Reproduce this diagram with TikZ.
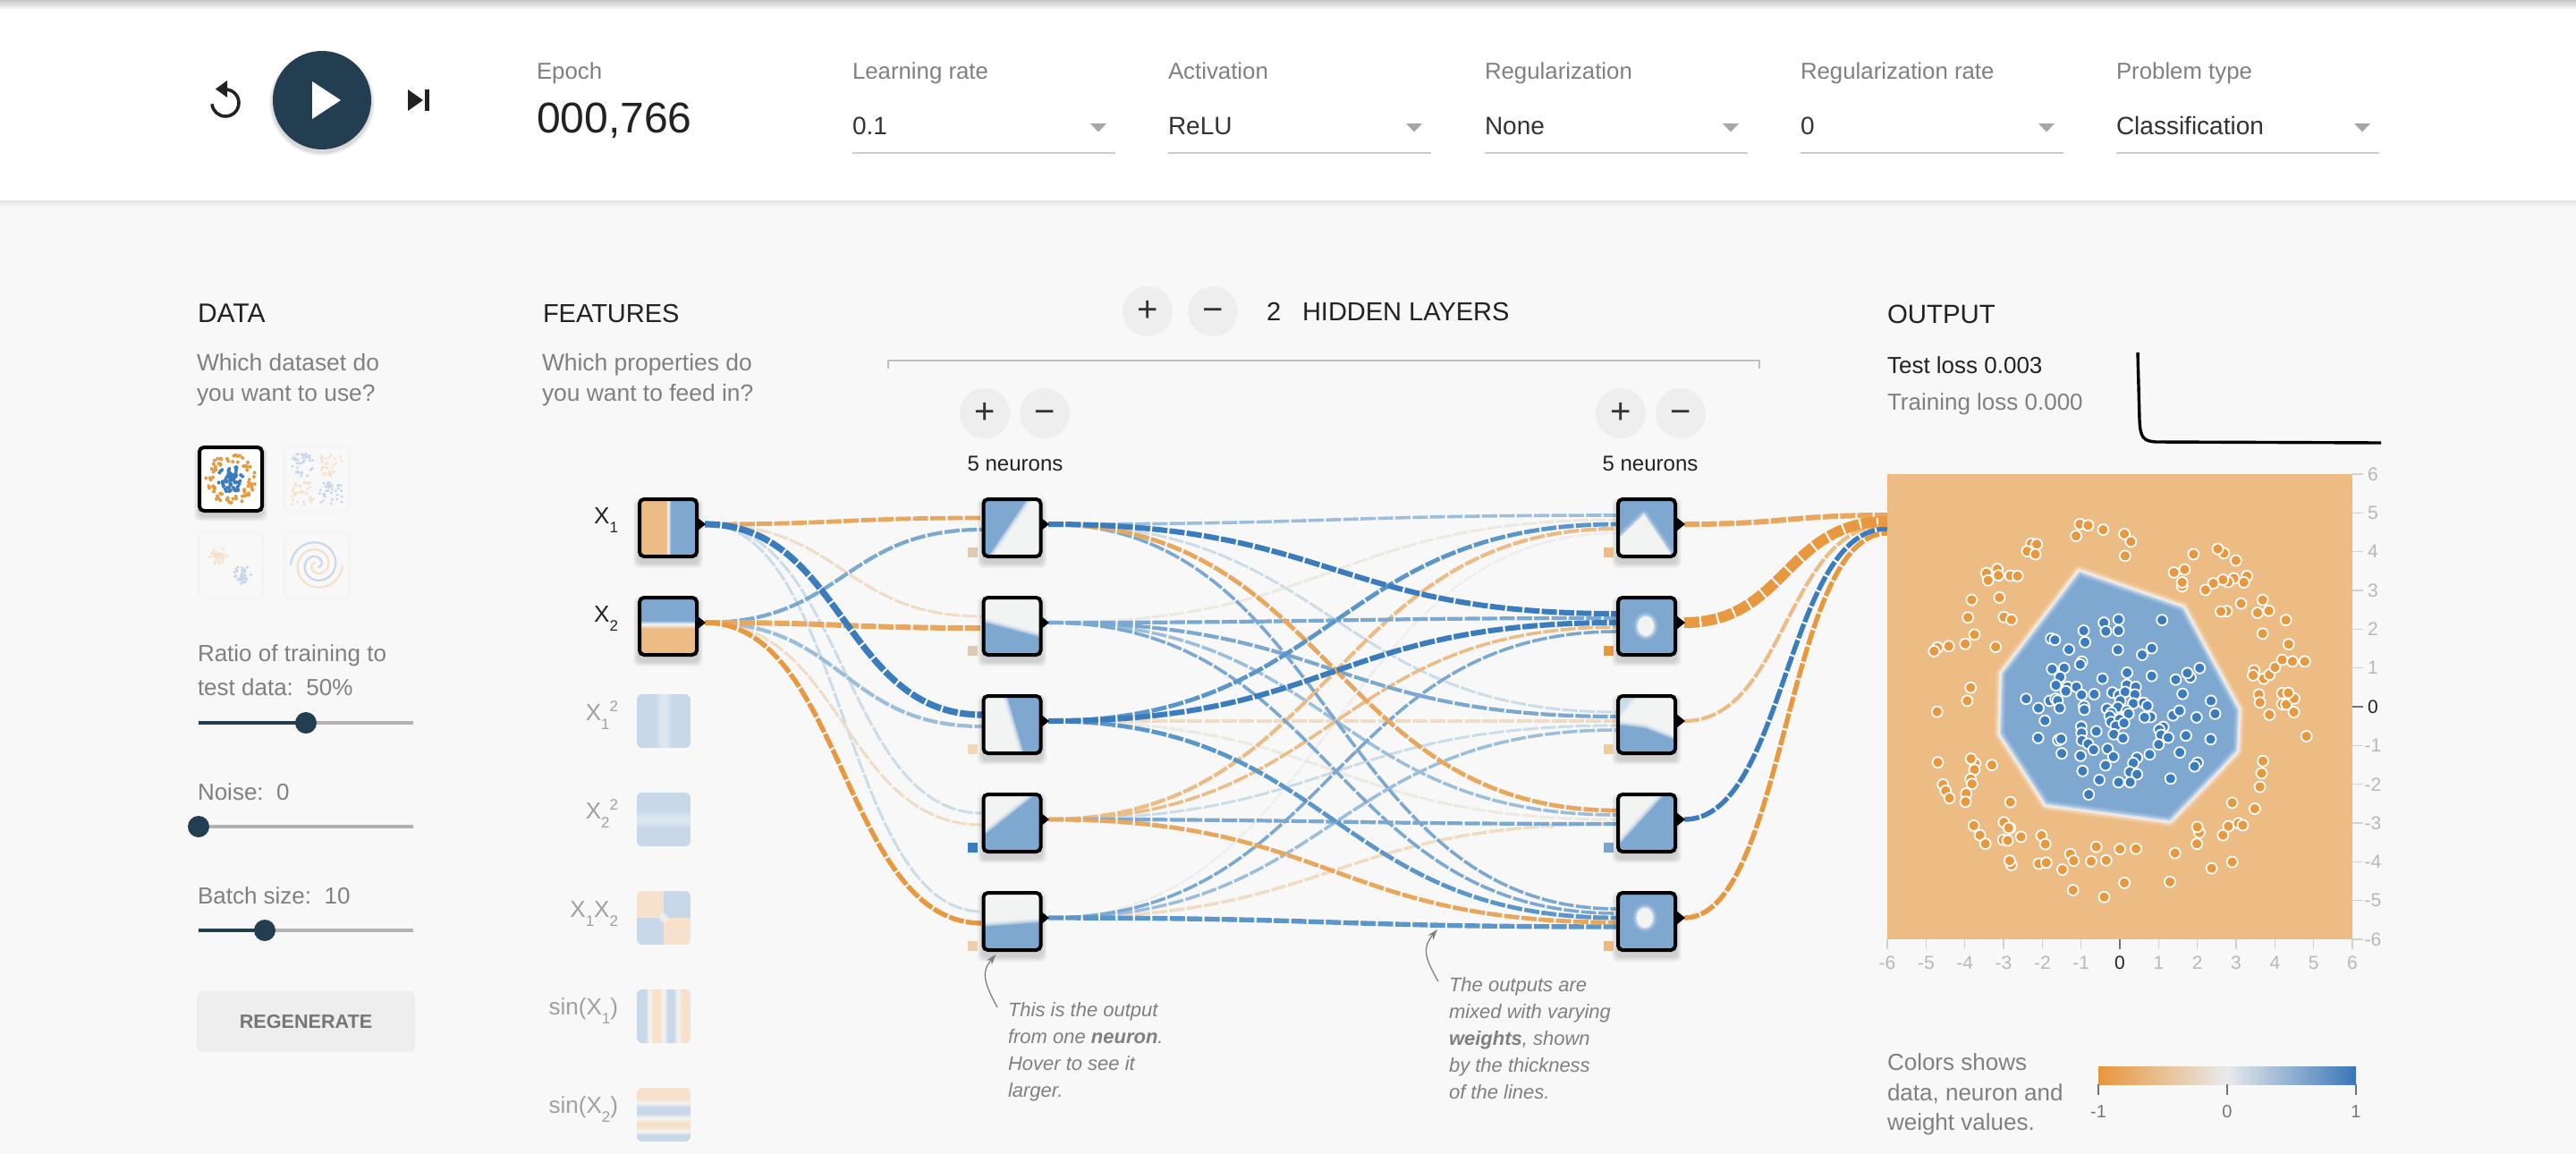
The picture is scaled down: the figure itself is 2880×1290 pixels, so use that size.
\documentclass[tikz,border=0pt]{standalone}
\usepackage{fontspec}
\setmainfont{Liberation Sans}
\usetikzlibrary{calc,arrows.meta}
\definecolor{pagebg}{HTML}{F8F8F8}
\definecolor{dark}{HTML}{233E50}
\definecolor{ink}{HTML}{222222}
\definecolor{val}{HTML}{333333}
\definecolor{lab}{HTML}{808080}
\definecolor{lab2}{HTML}{767676}
\definecolor{faintlab}{HTML}{A0A0A0}
\definecolor{track}{HTML}{B2B2B2}
\definecolor{btn}{HTML}{EEEEEE}
\definecolor{nblue}{HTML}{7FA8D1}
\definecolor{nwhite}{HTML}{F2F4F4}
\definecolor{nor}{HTML}{EDBB84}
\definecolor{ptO}{HTML}{E8983F}
\definecolor{ptB}{HTML}{3A7CBD}
\definecolor{orS}{HTML}{E8983F}
\definecolor{orM}{HTML}{E9A75E}
\definecolor{orL}{HTML}{EBBC85}
\definecolor{orP}{HTML}{F0DCC4}
\definecolor{grP}{HTML}{ECE9E0}
\definecolor{grQ}{HTML}{EDEDED}
\definecolor{blS}{HTML}{3A7CBD}
\definecolor{blM}{HTML}{5A96C9}
\definecolor{blN}{HTML}{7BA8D1}
\definecolor{blL}{HTML}{9DBEDB}
\definecolor{blP}{HTML}{CBDCE9}
\definecolor{pB}{HTML}{C8D8E9}
\definecolor{pB2}{HTML}{DDE7F0}
\definecolor{pO}{HTML}{F6E2CC}
\definecolor{pW}{HTML}{F4F4F2}
\definecolor{legO}{HTML}{E8963C}
\definecolor{legW}{HTML}{E8EAEB}
\definecolor{legB}{HTML}{3A75B8}
\pgfdeclarehorizontalshading{shXa}{100bp}{color(0bp)=(nor);color(48bp)=(nor);color(50bp)=(nwhite);color(52.5bp)=(nblue);color(100bp)=(nblue)}
\pgfdeclareverticalshading{shXb}{100bp}{color(0bp)=(nor);color(48bp)=(nor);color(50bp)=(orP);color(52bp)=(nwhite);color(55bp)=(nblue);color(100bp)=(nblue)}
\pgfdeclarehorizontalshading{shXaa}{100bp}{color(0bp)=(pB);color(42bp)=(pB);color(48bp)=(pB2);color(52bp)=(pB2);color(58bp)=(pB);color(100bp)=(pB)}
\pgfdeclareverticalshading{shXbb}{100bp}{color(0bp)=(pB);color(42bp)=(pB);color(48bp)=(pB2);color(52bp)=(pB2);color(58bp)=(pB);color(100bp)=(pB)}
\pgfdeclarehorizontalshading{shSa}{100bp}{color(0bp)=(pB);color(33bp)=(pB);color(36.5bp)=(pW);color(40bp)=(pO);color(46bp)=(pO);color(50bp)=(pW);color(54bp)=(pB);color(59bp)=(pB);color(63bp)=(pW);color(67bp)=(pO);color(100bp)=(pO)}
\pgfdeclareverticalshading{shSb}{100bp}{color(0bp)=(pB);color(31bp)=(pB);color(34.5bp)=(pW);color(38bp)=(pO);color(43bp)=(pO);color(47bp)=(pW);color(51bp)=(pB);color(57bp)=(pB);color(61bp)=(pW);color(65bp)=(pO);color(100bp)=(pO)}
\pgfdeclarehorizontalshading{shLeg}{100bp}{color(0bp)=(legO);color(25bp)=(legO);color(50bp)=(legW);color(75bp)=(legB);color(100bp)=(legB)}
\pgfdeclareverticalshading{shTop}{100bp}{color(0bp)=(white);color(25bp)=(white);color(75bp)=(black!22);color(100bp)=(black!22)}
\pgfdeclareverticalshading{shBot}{100bp}{color(0bp)=(pagebg);color(25bp)=(pagebg);color(75bp)=(black!11);color(100bp)=(black!11)}
\newcommand\fsz[1]{\fontsize{#1}{#1}\selectfont}
\newcommand\ssub[1]{\raisebox{-5pt}{\fsz{8.5}#1}}
\newcommand\ssup[1]{\raisebox{5pt}{\fsz{8.5}#1}}
\tikzset{
  txt/.style={inner sep=0pt,outer sep=0pt,anchor=base west},
  txtr/.style={inner sep=0pt,outer sep=0pt,anchor=base east},
  txtc/.style={inner sep=0pt,outer sep=0pt,anchor=base},
  diag/.style={to path={let \p1=(\tikztostart),\p2=(\tikztotarget),\n1={(\x1+\x2)/2} in .. controls (\n1,\y1) and (\n1,\y2) .. (\tikztotarget)}},
  link/.style={diag,dash pattern=on 8.5pt off 1.2pt},
  nbox/.style={draw=black,line width=2pt,rounded corners=2.5pt,minimum size=32pt,inner sep=0pt,fill=none},
  fbox/.style={rounded corners=3pt,minimum width=30pt,minimum height=30pt,inner sep=0pt},
  rbtn/.style={circle,fill=btn,minimum size=28pt,inner sep=0pt,text=val,font=\fsz{20}},
  uline/.style={line width=1pt,draw=black!20},
  knob/.style={circle,fill=dark,minimum size=12pt,inner sep=0pt},
  notearrow/.style={draw=black!50,line width=.65pt,-{Stealth[length=6pt,width=4pt]}},
  dot/.style={draw=white,line width=.9pt},
  axl/.style={inner sep=0pt,font=\fsz{10.5}}
}
\newcommand\tx[6]{\node[txt,text=#4,font=\fsz{#5}] (#1) at (#2,#3) {#6};}
\newcommand\txr[6]{\node[txtr,text=#4,font=\fsz{#5}] (#1) at (#2,#3) {#6};}
\newcommand\softfill[2]{\foreach \w/\o in {5/.1,3.5/.16,2.2/.25,1.1/.35}{\draw[#1,line width=\w pt,opacity=\o,line join=round] #2;}\fill[#1] #2;}
\newcommand\softshadow[2]{\foreach \i in {1,...,6}{\fill[black,opacity=.028,rounded corners=3pt] ({-#1-\i},{-#2-\i+6}) rectangle ({#1+\i},{#2+\i+6});}}
\newcommand\thumb[5]{\begin{scope}[shift={(#2,#3)}]
  \softshadow{33}{33}
  \begin{scope}\clip[rounded corners=2pt] (-32,-32) rectangle (32,32);
  \fill[#4] (-33,-33) rectangle (33,33);
  #5
  \end{scope}
  \node[nbox] (#1) at (0,0) {};
\end{scope}}
\newcommand\port[1]{\fill[black] ($(#1)+(-9,-8)$) -- ($(#1)+(1,0)$) -- ($(#1)+(-9,8)$) -- cycle;}
\newcommand\bias[4]{\fill[#4] (#1,#2) rectangle ++(11,11);}
\newcommand\selectbox[5]{%
  \tx{#1l}{#2}{88}{lab}{12.9}{#3}
  \tx{#1v}{#2}{150.5}{val}{14}{#4}
  \draw[uline] (#2,171) -- ++(293.5,0);
  \fill[black!35] ({#2+266},138) -- ++(18,0) -- ++(-9,9.5) -- cycle;}
\newcommand\slider[3]{\draw[track,line width=2pt] (222,#1) -- (462,#1);
  \draw[dark,line width=2pt] (222,#1) -- (#2,#1);
  \node[knob] (#3) at (#2,#1) {};}
\begin{document}
\begin{tikzpicture}[x=0.5pt,y=-0.5pt]
\useasboundingbox (0,0) rectangle (2880,1290);
\fill[pagebg] (0,0) rectangle (2880,1290);
% header
\fill[white] (0,0) rectangle (2880,224);
\shade[shading=shTop] (0,0) rectangle (2880,11);
\shade[shading=shBot] (0,224) rectangle (2880,232);
% transport
\draw[ink,line width=1.8pt] (252,100) arc[start angle=-90,end angle=175,radius=15];
\fill[ink] (241,99.5) -- (254,90) -- (254,109) -- cycle;
\foreach \i in {1,...,4}{\fill[black,opacity=.04] (360,115) circle[radius={(55+\i)*.5pt}];}
\node[circle,fill=dark,minimum size=55pt,inner sep=0pt] (play) at (360,112) {};
\fill[white] (349,91) -- (381,112) -- (349,133) -- cycle;
\fill[ink] (456,100) -- (473,112) -- (456,124) -- cycle;
\fill[ink] (475,100) rectangle (480,124);
\tx{epochl}{600}{88}{lab}{12.9}{Epoch}
\tx{epochv}{600}{148}{ink}{24}{000,766}
\selectbox{lr}{953}{Learning rate}{0.1}{}
\selectbox{ac}{1306}{Activation}{ReLU}{}
\selectbox{re}{1660}{Regularization}{None}{}
\selectbox{rr}{2013}{Regularization rate}{0}{}
\selectbox{pt}{2366}{Problem type}{Classification}{}
% left column
\tx{dataH}{221}{360.5}{ink}{15}{DATA}
\tx{dataA}{220}{414.5}{lab}{13.2}{Which dataset do}
\tx{dataB}{220}{448.5}{lab}{13.2}{you want to use?}
\tx{featH}{607}{360.5}{ink}{14.5}{FEATURES}
\tx{featA}{606}{414.5}{lab}{13.2}{Which properties do}
\tx{featB}{606}{448.5}{lab}{13.2}{you want to feed in?}
% dataset thumbnails
\begin{scope}[shift={(258,535.5)}]
  \softshadow{35}{35}
  \node[draw=black,line width=2pt,fill=white,rounded corners=2.5pt,minimum width=35pt,minimum height=35.5pt,inner sep=0pt] (ds1) at (0,0) {};
  \pgfmathsetseed{7}
  \foreach \i in {1,...,75}{\pgfmathsetmacro\a{rnd*360}\pgfmathsetmacro\r{19+rnd*9}\fill[ptO] ({\r*cos(\a)},{\r*sin(\a)}) circle[radius=1pt];}
  \foreach \i in {1,...,75}{\pgfmathsetmacro\a{rnd*360}\pgfmathsetmacro\r{15*rnd}\fill[ptB] ({\r*cos(\a)},{\r*sin(\a)}) circle[radius=1pt];}
\end{scope}
\begin{scope}[shift={(354,535.5)}]
  \node[draw=black!4,line width=1.5pt,rounded corners=2.5pt,minimum width=36pt,minimum height=36.5pt,inner sep=0pt] (ds2) at (0,0) {};
  \foreach \sx/\sy/\c in {-1/-1/pB,1/-1/pO,-1/1/pO,1/1/pB}{
    \foreach \i in {1,...,35}{\pgfmathsetmacro\px{\sx*(3+rnd*26)}\pgfmathsetmacro\py{\sy*(3+rnd*26)}\fill[\c] (\px,\py) circle[radius=.85pt];}}
\end{scope}
\begin{scope}[shift={(258,631.5)}]
  \node[draw=black!4,line width=1.5pt,rounded corners=2.5pt,minimum width=36pt,minimum height=36.5pt,inner sep=0pt] (ds3) at (0,0) {};
  \foreach \i in {1,...,45}{\pgfmathsetmacro\a{rnd*360}\pgfmathsetmacro\r{10*rnd}\fill[pO] ({-13+\r*cos(\a)},{-10+\r*sin(\a)}) circle[radius=.9pt];}
  \foreach \i in {1,...,45}{\pgfmathsetmacro\a{rnd*360}\pgfmathsetmacro\r{10*rnd}\fill[pB] ({13+\r*cos(\a)},{11+\r*sin(\a)}) circle[radius=.9pt];}
\end{scope}
\begin{scope}[shift={(354,631.5)}]
  \node[draw=black!4,line width=1.5pt,rounded corners=2.5pt,minimum width=36pt,minimum height=36.5pt,inner sep=0pt] (ds4) at (0,0) {};
  \draw[pO,line width=1.1pt] plot[smooth,domain=60:660,samples=50] ({(\x/660*29)*cos(660-\x)},{(\x/660*29)*sin(660-\x)});
  \draw[pB,line width=1.1pt] plot[smooth,domain=60:660,samples=50] ({(\x/660*29)*cos(840-\x)},{(\x/660*29)*sin(840-\x)});
\end{scope}
% sliders
\tx{ratA}{221}{739}{lab}{13}{Ratio of training to}
\tx{ratB}{221}{777.5}{lab}{13}{test data:\ \ 50\%}
\slider{808}{342}{k1}
\tx{noi}{221}{894.5}{lab}{13}{Noise:\ \ 0}
\slider{924}{222}{k2}
\tx{bat}{221}{1010}{lab}{13}{Batch size:\ \ 10}
\slider{1040}{296}{k3}
\node[fill=btn,rounded corners=3pt,minimum width=122pt,minimum height=34pt,inner sep=0pt,text=lab2,font=\fsz{10.8}\bfseries] (regen) at (342,1142) {REGENERATE};
% hidden-layer controls
\node[rbtn] (hplus) at (1283,348) {+};
\node[rbtn] (hminus) at (1356,348) {\vphantom{+}−};
\tx{hn}{1416}{358}{ink}{14.5}{2}
\tx{hl}{1456}{358}{ink}{14.5}{HIDDEN LAYERS}
\draw[draw=black!25,line width=1pt] (993,412) -- (993,403) -- (1967,403) -- (1967,412);
\node[rbtn] (l1p) at (1101,462) {+};
\node[rbtn] (l1m) at (1168,462) {\vphantom{+}−};
\node[rbtn] (l2p) at (1812,462) {+};
\node[rbtn] (l2m) at (1879,462) {\vphantom{+}−};
\node[txtc,text=ink,font=\fsz{12}] (l1n) at (1135,526) {5 neurons};
\node[txtc,text=ink,font=\fsz{12}] (l2n) at (1845,526) {5 neurons};
% named link ends
\coordinate (x1o) at (788,586);
\coordinate (x2o) at (788,696);
\foreach \k/\y in {1/586,2/696,3/806,4/916,5/1026}{
  \coordinate (n\k o) at (1172,\y);
  \coordinate (m\k o) at (1883,\y);
  \coordinate (n\k ia) at (1098,{\y-7});
  \coordinate (n\k ib) at (1098,{\y+6});
  \foreach \s in {1,...,5}{\coordinate (m\k i\s) at (1808,{\y+(\s-3)*5});}
}
\coordinate (o1) at (2110,576);
\coordinate (o2) at (2110,583);
\coordinate (o3) at (2110,587);
\coordinate (o4) at (2110,591);
\coordinate (o5) at (2110,596);
% links, faintest first
\foreach \a/\b/\c/\w in {
 n5o/m1i5/grQ/2, n2o/m1i2/grP/2.5, n3o/m4i3/grP/2.5,
 x1o/n2ia/orP/2.5, x1o/n4ia/blP/2.5, x1o/n5ia/blP/2.5, x2o/n4ib/orP/2.5,
 n1o/m3i1/blP/2.5, n4o/m3i4/blP/2.5, n3o/m3i3/orP/3, n5o/m4i4/orP/3,
 n1o/m1i1/blL/3, n2o/m4i2/blL/3, n5o/m3i5/blL/3,
 n4o/m2i4/orL/3, n4o/m1i4/orL/3.5,
 n1o/m5i1/blN/3, n2o/m5i2/blN/3, n2o/m2i2/blN/3.5, n2o/m3i2/blN/3.5, n4o/m4i4/blN/3.5, n5o/m2i5/blN/3,
 x2o/n1ib/blN/3.5, x2o/n3ib/blL/3.5,
 n1o/m4i1/orM/4, n4o/m5i4/orM/4,
 n3o/m1i3/blM/4, n3o/m5i3/blM/4, n5o/m5i5/blM/4.5,
 n3o/m2i3/blS/5, n1o/m2i1/blS/5,
 x1o/n1ia/orM/4, x2o/n2ib/orM/5, x2o/n5ib/orS/4.5, x1o/n3ia/blS/6,
 m3o/o3/orL/3.5, m5o/o5/orS/4.5, m4o/o4/blS/4.5, m1o/o1/orM/5, m2o/o2/orS/10}
{\draw[link,draw=\c,line width=\w*.6pt] (\a) to (\b);}
% features
\txr{lx1}{691}{585}{ink}{13}{X\ssub{1}}
\txr{lx2}{691}{695}{ink}{13}{X\ssub{2}}
\txr{lx11}{691}{805}{faintlab}{13}{X\ssub{1}\ssup{2}}
\txr{lx22}{691}{915}{faintlab}{13}{X\ssub{2}\ssup{2}}
\txr{lx12}{691}{1025}{faintlab}{13}{X\ssub{1}X\ssub{2}}
\txr{ls1}{691}{1134.5}{faintlab}{13}{sin(X\ssub{1})}
\txr{ls2}{691}{1244.5}{faintlab}{13}{sin(X\ssub{2})}
\thumb{fx1}{747}{590}{nor}{\shade[shading=shXa] (-32,-32) rectangle (32,32);}
\thumb{fx2}{747}{700}{nor}{\shade[shading=shXb] (-32,-32) rectangle (32,32);}
\port{x1o}\port{x2o}
\node[fbox,shade,shading=shXaa] (f3) at (742,806) {};
\node[fbox,shade,shading=shXbb] (f4) at (742,916) {};
\begin{scope}
 \clip[rounded corners=3pt] (712,996) rectangle (772,1056);
 \fill[pO] (712,996) rectangle (742,1026);
 \fill[pO] (742,1026) rectangle (772,1056);
 \fill[pB] (742,996) rectangle (772,1026);
 \fill[pB] (712,1026) rectangle (742,1056);
 \fill[pW,opacity=.7] (742,1026) circle[radius=2.5pt];
\end{scope}
\node[fbox] (f5) at (742,1026) {};
\node[fbox,shade,shading=shSa] (f6) at (742,1136) {};
\node[fbox,shade,shading=shSb] (f7) at (742,1246) {};
% hidden layer 1
\thumb{n1}{1131.5}{590}{nwhite}{\softfill{nblue}{(-34,-34) -- (18,-34) -- (-27,32) -- (-34,34) -- cycle}}
\thumb{n2}{1131.5}{700}{nwhite}{\softfill{nblue}{(-34,-5) -- (34,13) -- (34,34) -- (-34,34) -- cycle}}
\thumb{n3}{1131.5}{810}{nwhite}{\softfill{nblue}{(-6,-34) -- (34,-34) -- (34,34) -- (14,34) -- cycle}}
\thumb{n4}{1131.5}{920}{nwhite}{\softfill{nblue}{(29,-34) -- (-34,16) -- (-34,34) -- (34,34) -- (34,-34) -- cycle}}
\thumb{n5}{1131.5}{1030}{nwhite}{\softfill{nblue}{(-34,6) -- (34,1) -- (34,34) -- (-34,34) -- cycle}}
\foreach \k in {1,...,5}{\port{n\k o}}
\bias{1082}{612}{}{black!8!orP}
\bias{1082}{722}{}{black!8!orP}
\bias{1082}{832}{}{orP!85!orL}
\bias{1082}{942}{}{blS}
\bias{1082}{1052}{}{orP!60!orL}
% hidden layer 2
\thumb{m1}{1841}{590}{nblue}{\softfill{nwhite}{(-3,-15) -- (-34,15) -- (-34,34) -- (30,34) -- cycle}}
\thumb{m2}{1841}{700}{nblue}{\softfill{nwhite}{(-1,0) ellipse[x radius=9,y radius=11]}}
\thumb{m3}{1841}{810}{nwhite}{\softfill{nblue}{(-34,0) -- (-2,4) -- (34,18) -- (34,34) -- (-34,34) -- cycle}\softfill{blP}{(-34,-34) -- (-12,-34) -- (-34,-8) -- cycle}}
\thumb{m4}{1841}{920}{nwhite}{\softfill{nblue}{(22,-34) -- (-34,28) -- (-34,34) -- (34,34) -- (34,-34) -- cycle}}
\thumb{m5}{1841}{1030}{nblue}{\softfill{nwhite}{(-2,-4) ellipse[x radius=9,y radius=11]}}
\foreach \k in {1,...,5}{\port{m\k o}}
\bias{1793}{612}{}{orL}
\bias{1793}{722}{}{orS}
\bias{1793}{832}{}{orP!50!orL}
\bias{1793}{942}{}{blN!85!blM}
\bias{1793}{1052}{}{orL!85!orM}
% annotations
\tx{ntA}{1127}{1136}{lab}{11}{\itshape This is the output}
\tx{ntB}{1127}{1166}{lab}{11}{\itshape from one \textbf{neuron}.}
\tx{ntC}{1127}{1196}{lab}{11}{\itshape Hover to see it}
\tx{ntD}{1127}{1226}{lab}{11}{\itshape larger.}
\coordinate (a1s) at (1115,1126);
\coordinate (a1e) at (1113.5,1067);
\draw[notearrow] (a1s) .. controls (1098,1095) and (1098,1085) .. (a1e);
\tx{nuA}{1620}{1108}{lab}{11}{\itshape The outputs are}
\tx{nuB}{1620}{1138}{lab}{11}{\itshape mixed with varying}
\tx{nuC}{1620}{1168}{lab}{11}{\itshape \textbf{weights}, shown}
\tx{nuD}{1620}{1198}{lab}{11}{\itshape by the thickness}
\tx{nuE}{1620}{1228}{lab}{11}{\itshape of the lines.}
\coordinate (a2s) at (1608,1097);
\coordinate (a2e) at (1607,1039);
\draw[notearrow] (a2s) .. controls (1591,1068) and (1591,1058) .. (a2e);
% output column
\tx{outH}{2110}{361}{ink}{14.7}{OUTPUT}
\tx{tloss}{2110}{417}{ink}{13}{Test loss 0.003}
\tx{trloss}{2110}{458}{lab}{13}{Training loss 0.000}
\draw[black,line width=1.7pt] (2390,394) -- (2392,470) .. controls (2393,489) and (2396,493) .. (2410,494) -- (2662,495);
% output map
\fill[nor] (2110,530) rectangle (2630,1050);
\begin{scope}[shift={(2080,510)},x=0.19135pt,y=-0.18498pt]
  \fill[nblue] (638,345) -- (945,455) -- (1108,765) -- (1103,890) -- (1050,950) -- (905,1105) -- (540,1055) -- (405,840) -- (410,655) -- cycle;
  \foreach \w/\o in {6/.1,4.5/.15,3/.22,1.8/.3,.9/.4}{
    \draw[white,line width=\w pt,opacity=\o,line join=round] (638,345) -- (945,455) -- (1108,765) -- (1103,890) -- (1050,950) -- (905,1105) -- (540,1055) -- (405,840) -- (410,655) -- cycle;}
  \foreach \x/\y in {641/205,665/209,709/222,630/241,771/235,790/258,773/301,499/264,515/266,487/287,511/296,368/353,400/341,403/360,373/375,438/361,459/362,325/434,406/427,314/487,419/486,441/494,333/539,306/567,258/574,395/576,225/578,215/589,322/699,312/739,224/772,226/925,335/928,323/914,333/947,384/933,322/975,326/990,241/992,249/1011,260/1033,309/1019,307/1044,438/1045,419/1106,331/1116,349/1145,365/1171,437/1124,433/1123,417/1159,430/1161,469/1150,529/1146,540/1172,441/1235,436/1222,521/1231,543/1228,590/1249,613/1202,623/1222,621/1311,674/1224,689/1180,718/1221,712/1332,758/1187,805/1186,771/1289,904/1286,919/1199,983/1171,990/1137,984/1120,1059/1145,1075/1118,1104/1109,1117/1115,1086/1226,1026/1245,1086/1047,1152/1065,1167/999,1172/958,1176/921,1303/846,1195/781,1266/773,1232/749,1244/750,1267/732,1232/716,1250/715,1164/720,1167/744,1178/672,1150/647,1147/662,1195/660,1211/638,1232/615,1262/620,1298/620,1251/568,1175/536,1243/495,1193/467,1160/473,1175/434,1112/445,1070/468,1053/469,1129/362,1120/381,1091/369,1074/380,1059/373,1031/384,1008/404,1097/315,1062/293,1044/280,973/296,947/342,916/351,940/393,940/381}
    {\filldraw[dot,fill=ptO] (\x,\y) circle[radius=3pt];}
  \foreach \x/\y in {881/495,754/493,711/503,717/529,754/527,652/527,656/562,557/551,568/555,609/584,752/585,851/580,823/600,647/621,642/629,560/643,595/640,583/667,707/672,779/654,851/664,991/640,964/668,955/655,921/675,571/692,605/697,631/697,600/710,778/691,804/697,736/714,755/722,773/712,802/720,941/718,646/721,683/719,484/733,553/739,570/733,576/738,520/761,582/761,653/755,654/766,759/739,797/747,827/745,838/754,1024/739,1036/778,720/763,752/758,778/769,733/775,728/785,783/778,848/788,830/789,913/783,932/769,982/789,539/799,732/803,757/795,746/815,770/806,645/817,646/836,689/831,740/840,767/852,885/818,873/826,878/842,899/850,951/844,1023/855,519/851,578/858,586/854,647/859,665/869,871/871,722/884,681/887,588/898,643/905,739/908,845/901,933/895,808/911,797/927,716/934,985/926,976/937,649/951,787/954,808/961,698/978,754/985,788/985,906/974,667/1022}
    {\filldraw[dot,fill=ptB] (\x,\y) circle[radius=3pt];}
\end{scope}
% axes
\foreach \v in {-6,...,6}{
  \pgfmathsetmacro\yy{790-\v*43.3333}
  \pgfmathsetmacro\xx{2370+\v*43.3333}
  \ifnum\v=0 \def\tc{black!55}\def\lc{ink}\else\def\tc{black!18}\def\lc{black!28}\fi
  \draw[\tc,line width=.6pt] (2630,\yy) -- (2642,\yy);
  \draw[\tc,line width=.6pt] (\xx,1050) -- (\xx,1061);
  \node[axl,text=\lc] (ya\v) at (2653,\yy) {\v};
  \node[axl,text=\lc] (xa\v) at (\xx,1076) {\v};
}
% legend
\tx{lgA}{2110}{1196}{lab}{13}{Colors shows}
\tx{lgB}{2110}{1230}{lab}{13}{data, neuron and}
\tx{lgC}{2110}{1263}{lab}{13}{weight values.}
\shade[shading=shLeg] (2346,1192) rectangle (2634,1212);
\foreach \p/\t in {2346/-1,2490/0,2634/1}{
  \draw[black!55,line width=.7pt] (\p,1212) -- (\p,1224);
  \node[axl,text=lab2,font=\fsz{10}] (lg\t) at (\p,1243) {\t};
}
\end{tikzpicture}
\end{document}
